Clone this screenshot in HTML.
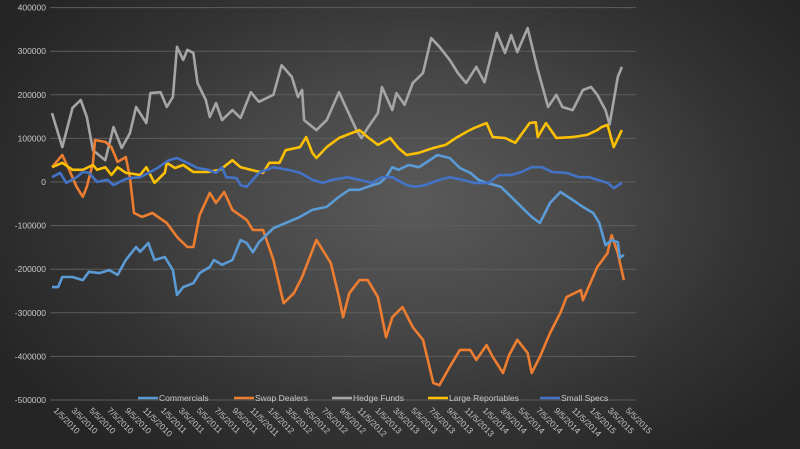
<!DOCTYPE html>
<html><head><meta charset="utf-8"><style>
html,body{margin:0;padding:0;width:800px;height:449px;overflow:hidden}
body{background:radial-gradient(ellipse 60% 70% at 52% 45%,#5a5a5a 0%,#474747 40%,#333 70%,#252525 100%);font-family:"Liberation Sans",sans-serif}
</style></head><body>
<svg id="chart" width="800" height="449" xmlns="http://www.w3.org/2000/svg"></svg>
<script>
const yTicks=[400000,300000,200000,100000,0,-100000,-200000,-300000,-400000,-500000];
const xLabels=["1/5/2010","3/5/2010","5/5/2010","7/5/2010","9/5/2010","11/5/2010","1/5/2011","3/5/2011","5/5/2011","7/5/2011","9/5/2011","11/5/2011","1/5/2012","3/5/2012","5/5/2012","7/5/2012","9/5/2012","11/5/2012","1/5/2013","3/5/2013","5/5/2013","7/5/2013","9/5/2013","11/5/2013","1/5/2014","3/5/2014","5/5/2014","7/5/2014","9/5/2014","11/5/2014","1/5/2015","3/5/2015","5/5/2015"];
const hedgeWeeks=[0,5,10,14,17,20,26,30,34,38,41,46,48,53,56,59,61,64,66,69,71,75,77,80,83,88,92,97,101,108,112,117,120,122,123,129,134,140,144,149,151,154,159,161,166,168,172,176,181,185,189,194,198,202,207,211,217,221,224,227,232,237,242,246,249,254,259,263,266,270,272,276,278];
const hedgeVals=[158,80,170,188,149,73,50,126,78,112,172,135,204,206,172,195,310,280,303,296,227,188,149,181,142,165,147,206,184,200,268,241,195,211,142,119,142,206,165,115,101,124,158,218,165,204,177,227,250,330,310,280,250,227,264,229,342,296,337,298,353,257,172,200,172,165,211,218,200,165,132,241,264];
const swapWeeks=[0,5,9,12,15,17,20,21,26,29,32,36,38,40,44,49,56,61,66,69,72,77,80,84,88,95,98,103,108,113,118,122,129,136,140,142,145,150,154,159,163,166,171,176,181,186,189,194,199,204,207,212,215,220,223,227,232,234,238,243,248,251,258,259,266,271,273,276,279];
const swapVals=[34,62,21,-11,-34,-11,44,96,92,80,46,57,11,-71,-80,-71,-94,-126,-149,-149,-76,-25,-48,-23,-64,-87,-110,-110,-179,-278,-255,-218,-133,-186,-264,-310,-255,-225,-225,-264,-356,-310,-287,-333,-362,-461,-466,-424,-385,-385,-408,-374,-401,-438,-397,-362,-392,-438,-401,-346,-300,-264,-248,-271,-195,-163,-122,-163,-225];
const largeWeeks=[0,5,10,15,20,22,26,29,32,36,43,46,50,55,56,60,64,69,76,82,88,92,97,103,106,111,114,121,124,127,129,134,140,146,150,154,159,165,169,173,179,186,192,197,203,206,212,215,221,226,233,236,237,241,246,254,261,266,268,271,274,278];
const largeVals=[34,44,28,28,39,28,34,16,34,21,16,34,-2,21,44,32,39,23,23,28,50,34,28,21,44,44,73,80,103,67,55,80,101,112,119,103,85,101,78,62,67,78,85,101,117,124,135,103,101,90,135,137,103,135,101,103,108,119,126,131,80,119];
const commWeeks=[0,3,5,10,15,18,23,28,32,36,41,43,47,50,55,59,61,64,69,72,77,79,83,88,92,95,98,101,108,114,121,127,134,140,145,150,154,160,163,166,169,174,179,183,188,194,199,204,208,212,219,224,229,234,238,243,248,254,259,264,267,270,273,276,277,279];
const commVals=[-241,-241,-218,-218,-225,-206,-209,-202,-213,-179,-149,-160,-140,-179,-172,-202,-259,-241,-232,-209,-195,-179,-190,-179,-133,-140,-161,-138,-106,-94,-80,-64,-57,-34,-18,-18,-11,-2,11,34,28,39,34,46,62,55,32,21,5,-2,-11,-34,-57,-80,-94,-48,-23,-41,-57,-71,-94,-145,-133,-138,-174,-167];
const smallWeeks=[0,4,7,12,15,18,22,27,30,35,38,43,48,52,57,61,66,71,76,80,83,85,90,92,95,101,108,115,121,127,132,137,144,150,156,161,166,173,177,182,189,194,200,206,213,218,224,229,234,239,244,251,257,262,266,271,274,278];
const smallVals=[11,21,-2,11,23,21,0,5,-7,5,9,11,23,34,50,55,44,32,28,21,34,11,9,-7,-11,21,34,28,21,5,-2,5,11,5,-2,11,11,-7,-11,-7,5,11,5,-2,-2,16,16,23,34,34,23,21,11,11,5,-2,-14,-2];
const seriesNames=["Commercials","Swap Dealers","Hedge Funds","Large Reportables","Small Specs"];

const NS="http://www.w3.org/2000/svg";
const svg=document.getElementById('chart');
const X0=52,WK=2.05,Y0=182,PX=43.6/100000;
const xs=w=>X0+w*WK;
const ys=v=>Y0-v*PX;
function mk(tag,attrs){const e=document.createElementNS(NS,tag);for(const k in attrs)e.setAttribute(k,attrs[k]);svg.appendChild(e);return e;}
yTicks.forEach(t=>{
  const g=mk('line',{x1:50,x2:636,y1:ys(t),y2:ys(t),stroke:'#5d5d5d','stroke-width':1});
  
  
  const tx=mk('text',{x:46,y:ys(t)+3,'text-anchor':'end','font-size':8.5,fill:'#c8c8c8','font-family':'Liberation Sans, sans-serif'});
  tx.textContent=t;
  
  
});
xLabels.forEach((l,i)=>{
  const x=xs(i*8.72)+1,y=411;
  const tx=mk('text',{x:x,y:y,'font-size':8.5,fill:'#c0c0c0',transform:`rotate(45 ${x} ${y})`,'font-family':'Liberation Sans, sans-serif'});
  tx.textContent=l;
  
  
});
const series=[
 [commWeeks,commVals,'#5b9bd5','commercials-line'],
 [swapWeeks,swapVals,'#ed7d31','swap-dealers-line'],
 [hedgeWeeks,hedgeVals,'#a5a5a5','hedge-funds-line'],
 [largeWeeks,largeVals,'#ffc000','large-reportables-line'],
 [smallWeeks,smallVals,'#4472c4','small-specs-line']];
[2,1,0,3,4].forEach(i=>{
  const [w,v,c,n]=series[i];
  const d=w.map((wk,j)=>(j?'L':'M')+xs(wk).toFixed(1)+','+ys(v[j]*1000).toFixed(1)).join('');
  const p=mk('path',{d:d,fill:'none',stroke:c,'stroke-width':2.6,'stroke-linejoin':'round'});
  
  
});
const legX=[138,234,332,428,540];
seriesNames.forEach((n,i)=>{
  const ln=mk('line',{x1:legX[i],x2:legX[i]+20,y1:398,y2:398,stroke:series[i][2],'stroke-width':2.6});
  
  
  const t=mk('text',{x:legX[i]+21,y:401,'font-size':8.5,fill:'#c8c8c8','font-family':'Liberation Sans, sans-serif'});
  t.textContent=n;
  
  
});
</script>
</body></html>
